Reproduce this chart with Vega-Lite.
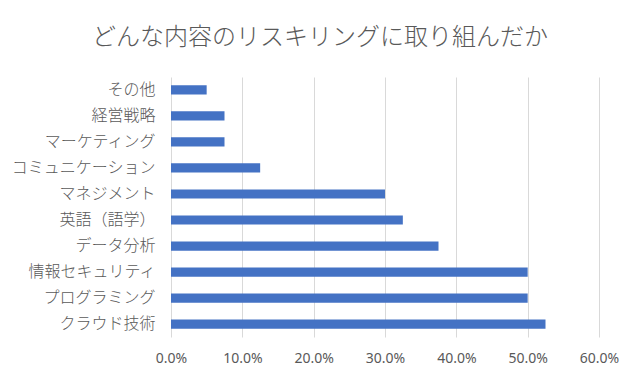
{
  "$schema": "https://vega.github.io/schema/vega-lite/v6.json",
  "autosize": "none",
  "width": 428,
  "height": 260,
  "padding": {"left": 171, "top": 77, "right": 41, "bottom": 43},
  "background": "white",
  "title": {
    "text": "どんな内容のリスキリングに取り組んだか",
    "anchor": "middle",
    "dx": -65,
    "offset": 8,
    "baseline": "alphabetic",
    "font": "Noto Sans CJK JP",
    "fontSize": 24,
    "fontWeight": 300,
    "color": "#595959"
  },
  "data": {
    "values": [
      {"item": "その他", "value": 0.05},
      {"item": "経営戦略", "value": 0.075},
      {"item": "マーケティング", "value": 0.075},
      {"item": "コミュニケーション", "value": 0.125},
      {"item": "マネジメント", "value": 0.30},
      {"item": "英語（語学）", "value": 0.325},
      {"item": "データ分析", "value": 0.375},
      {"item": "情報セキュリティ", "value": 0.50},
      {"item": "プログラミング", "value": 0.50},
      {"item": "クラウド技術", "value": 0.525}
    ]
  },
  "mark": {"type": "bar", "color": "#4472C4"},
  "encoding": {
    "y": {
      "field": "item",
      "type": "nominal",
      "sort": null,
      "title": null,
      "scale": {"paddingInner": 0.645, "paddingOuter": 0.32},
      "axis": {
        "ticks": false,
        "domain": false,
        "grid": false,
        "labelPadding": 16,
        "labelFont": "Noto Sans CJK JP",
        "labelFontSize": 16,
        "labelFontWeight": 300,
        "labelColor": "#595959"
      }
    },
    "x": {
      "field": "value",
      "type": "quantitative",
      "title": null,
      "scale": {"domain": [0, 0.6], "nice": false},
      "axis": {
        "values": [0, 0.1, 0.2, 0.3, 0.4, 0.5, 0.6],
        "format": ".1%",
        "ticks": false,
        "domain": false,
        "grid": true,
        "gridColor": "#d9d9d9",
        "gridWidth": 1,
        "labelFlush": false,
        "labelOverlap": false,
        "labelPadding": 14,
        "labelFont": "Noto Sans",
        "labelFontSize": 14,
        "labelColor": "#595959"
      }
    }
  },
  "config": {"view": {"stroke": null}}
}
